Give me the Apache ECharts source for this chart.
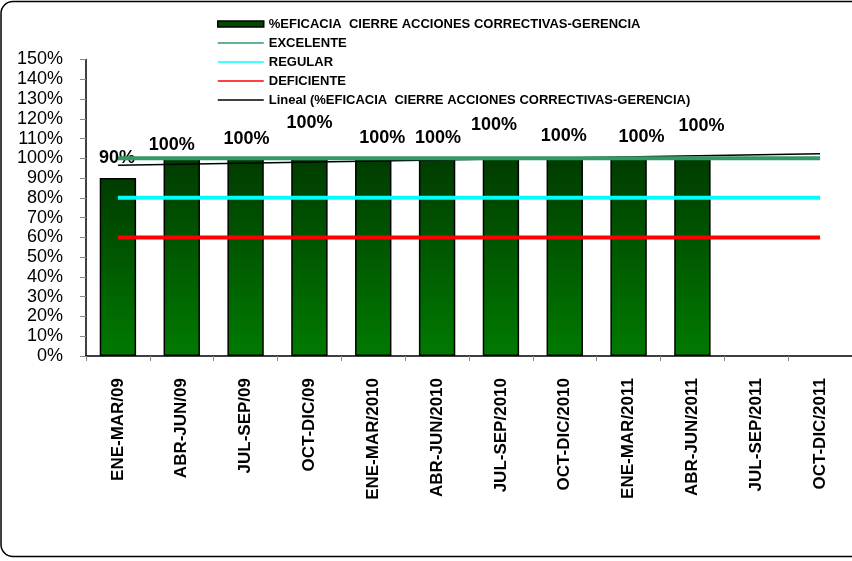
<!DOCTYPE html>
<html>
<head>
<meta charset="utf-8">
<script src="https://cdn.jsdelivr.net/npm/echarts@6/dist/echarts.min.js"></script>
<style>html,body{margin:0;padding:0;background:#fff}#c{width:852px;height:561px}</style>
</head>
<body>
<div id="c"></div>
<script>
const categories = ['ENE-MAR/09','ABR-JUN/09','JUL-SEP/09','OCT-DIC/09','ENE-MAR/2010','ABR-JUN/2010','JUL-SEP/2010','OCT-DIC/2010','ENE-MAR/2011','ABR-JUN/2011','JUL-SEP/2011','OCT-DIC/2011'];
const eficacia = [90,100,100,100,100,100,100,100,100,100,null,null];
const excelente = [100,100,100,100,100,100,100,100,100,100,100,100];
const regular = [80,80,80,80,80,80,80,80,80,80,80,80];
const deficiente = [60,60,60,60,60,60,60,60,60,60,60,60];
const tendencia = [96.5,null,null,null,null,null,null,null,null,null,null,102.3];
const yTicks = {min:0, max:150, interval:10};

// label nudges (style only): [dx, dy]
const labelNudge = [[-1,-11],[-10,-4],[1,-10],[0,-26],[9,-11],[1,-11],[-7,-24],[-1,-13],[13,-12],[9,-23]];

const NAME_BAR = '%EFICACIA  CIERRE ACCIONES CORRECTIVAS-GERENCIA';
const NAME_TREND = 'Lineal (%EFICACIA  CIERRE ACCIONES CORRECTIVAS-GERENCIA)';
const font = 'Liberation Sans, Arial, sans-serif';
const lineIcon = 'path://M0,0h46v1.6h-46z';

const chart = echarts.init(document.getElementById('c'), null, {renderer:'canvas'});
chart.setOption({
  animation: false,
  backgroundColor: '#fff',
  graphic: [{
    type: 'rect', shape: {x: 1, y: 1.5, width: 900, height: 555, r: 12},
    style: {fill: 'none', stroke: '#000', lineWidth: 1.5}, silent: true, z: 100
  }],
  legend: {
    orient: 'vertical', left: 217, top: 17, padding: 0,
    itemWidth: 46, itemHeight: 14, itemGap: 5,
    textStyle: {fontFamily: font, fontWeight: 'bold', fontSize: 13, color: '#000', lineHeight: 14},
    data: [
      {name: NAME_BAR, icon: 'path://M0,0h46v6h-46z', itemStyle: {color: '#004a00', borderColor: '#000', borderWidth: 1.5}},
      {name: 'EXCELENTE', icon: lineIcon, itemStyle: {color: '#339966', borderWidth: 0}},
      {name: 'REGULAR', icon: lineIcon, itemStyle: {color: '#00ffff', borderWidth: 0}},
      {name: 'DEFICIENTE', icon: lineIcon, itemStyle: {color: '#ff0000', borderWidth: 0}},
      {name: NAME_TREND, icon: lineIcon, itemStyle: {color: '#000', borderWidth: 0}}
    ]
  },
  grid: {left: 86, top: 59.5, width: 774, bottom: 205},
  xAxis: {
    type: 'category', data: categories,
    axisLine: {lineStyle: {color: '#000', width: 1.5}},
    axisTick: {show: true, length: 5, lineStyle: {color: '#888'}, alignWithLabel: false},
    axisLabel: {rotate: 90, margin: 22, interval: 0, fontFamily: font, fontWeight: 'bold', fontSize: 17, color: '#000'},
    splitLine: {show: false}
  },
  yAxis: {
    type: 'value', min: yTicks.min, max: yTicks.max, interval: yTicks.interval,
    axisLine: {show: true, lineStyle: {color: '#000', width: 1.5}},
    axisTick: {show: true, length: 6, lineStyle: {color: '#888'}},
    axisLabel: {margin: 23, formatter: '{value}%', fontFamily: font, fontSize: 18, color: '#000'},
    splitLine: {show: false}
  },
  series: [
    {
      name: NAME_BAR, type: 'bar', barCategoryGap: '43%',
      data: eficacia.map((v, i) => v == null ? null : ({
        value: v,
        label: {offset: labelNudge[i] || [0,0]}
      })),
      itemStyle: {
        borderColor: '#000', borderWidth: 1.5,
        color: new echarts.graphic.LinearGradient(0,0,0,1,[{offset:0,color:'#003c00'},{offset:1,color:'#007a00'}])
      },
      label: {show: true, position: 'top', distance: 0, formatter: '{c}%', fontFamily: font, fontWeight: 'bold', fontSize: 18, color: '#000'},
      z: 2
    },
    {name: 'EXCELENTE', type: 'line', data: excelente, symbol: 'none', color: '#339966', lineStyle: {width: 4, color: '#339966'}, z: 4},
    {name: 'REGULAR', type: 'line', data: regular, symbol: 'none', color: '#00ffff', lineStyle: {width: 4, color: '#00ffff'}, z: 4},
    {name: 'DEFICIENTE', type: 'line', data: deficiente, symbol: 'none', color: '#ff0000', lineStyle: {width: 4, color: '#ff0000'}, z: 4},
    {name: NAME_TREND, type: 'line', data: tendencia, connectNulls: true, symbol: 'none', color: '#000', lineStyle: {width: 1.5, color: '#000'}, z: 3}
  ]
});
</script>
</body>
</html>
